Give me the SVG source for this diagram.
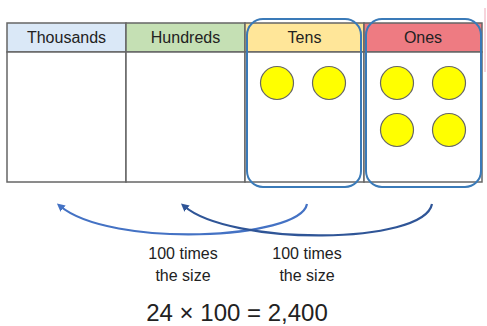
<svg xmlns="http://www.w3.org/2000/svg" width="487" height="326" viewBox="0 0 487 326">
<style>
.cell{stroke:#666;stroke-width:1.5}
.hdr{font-family:"Liberation Sans",Arial,sans-serif;font-size:16px;fill:#222;text-anchor:middle}
.lbl{font-family:"Liberation Sans",Arial,sans-serif;font-size:16px;fill:#222;text-anchor:middle}
.dot{fill:#ffff00;stroke:#666;stroke-width:1.2}
.grp{fill:none;stroke:#3a7ab8;stroke-width:2}
</style>
<defs>
<marker id="ah1" markerWidth="8" markerHeight="8" refX="4" refY="4" orient="auto" markerUnits="userSpaceOnUse"><path d="M0,0 L8,4 L0,8 z" fill="#4472c4"/></marker>
<marker id="ah2" markerWidth="8" markerHeight="8" refX="4" refY="4" orient="auto" markerUnits="userSpaceOnUse"><path d="M0,0 L8,4 L0,8 z" fill="#2f5597"/></marker>
</defs>
<rect width="487" height="326" fill="#fff"/>
<line x1="485" y1="8" x2="485" y2="72" stroke="#f4c6d0" stroke-width="1.5"/>
<g id="thousands">
<rect class="cell" x="7" y="23" width="119" height="29" fill="#dae8f7"/>
<rect class="cell" x="7" y="52" width="119" height="130" fill="#fff"/>
<text class="hdr" x="66.5" y="43">Thousands</text>
</g>
<g id="hundreds">
<rect class="cell" x="126" y="23" width="119" height="29" fill="#c5e0b4"/>
<rect class="cell" x="126" y="52" width="119" height="130" fill="#fff"/>
<text class="hdr" x="185.5" y="43">Hundreds</text>
</g>
<g id="tens">
<rect class="cell" x="245" y="23" width="119" height="29" fill="#ffe699"/>
<rect class="cell" x="245" y="52" width="119" height="130" fill="#fff"/>
<text class="hdr" x="304.5" y="43">Tens</text>
<circle class="dot" cx="277" cy="83" r="16.5"/>
<circle class="dot" cx="329" cy="83" r="16.5"/>
<rect class="grp" x="247" y="19" width="114" height="168" rx="16"/>
</g>
<g id="ones">
<rect class="cell" x="364" y="23" width="118" height="29" fill="#ee7b82"/>
<rect class="cell" x="364" y="52" width="118" height="130" fill="#fff"/>
<text class="hdr" x="423" y="43">Ones</text>
<circle class="dot" cx="397" cy="83" r="16.5"/>
<circle class="dot" cx="449" cy="83" r="16.5"/>
<circle class="dot" cx="397" cy="130" r="16.5"/>
<circle class="dot" cx="449" cy="130" r="16.5"/>
<rect class="grp" x="366" y="19" width="115" height="168" rx="16"/>
</g>
<g id="connectors" fill="none" stroke-width="2.2">
<path d="M307,204 C300,240 110,248 60,206" stroke="#4472c4" marker-end="url(#ah1)"/>
<path d="M432,204 C424,245 230,246 184,206" stroke="#2f5597" marker-end="url(#ah2)"/>
</g>
<g id="labels">
<text class="lbl" x="183" y="259">100 times</text>
<text class="lbl" x="183" y="281">the size</text>
<text class="lbl" x="307" y="259">100 times</text>
<text class="lbl" x="307" y="281">the size</text>
<text class="lbl" x="237" y="321" style="font-size:24px">24 × 100 = 2,400</text>
</g>
</svg>
